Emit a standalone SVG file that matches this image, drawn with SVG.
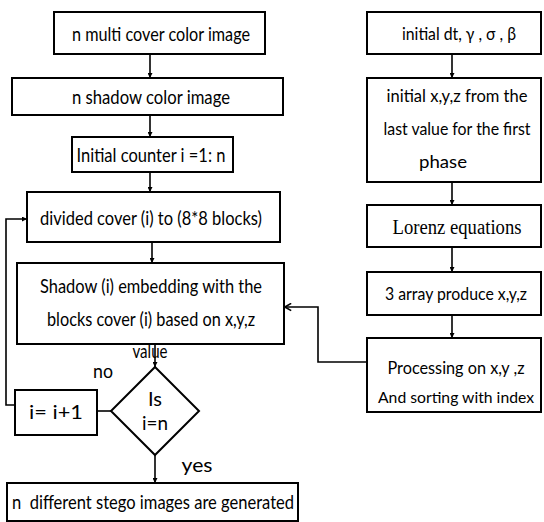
<svg xmlns="http://www.w3.org/2000/svg" width="544" height="522" viewBox="0 0 544 522">
<style>
.b{fill:#fff;stroke:#000;stroke-width:2}
.t{font-family:Lato,"Liberation Sans",Arial,sans-serif;font-size:19px;fill:#000;text-anchor:middle}
.r{font-size:17px}
.q{font-size:16px}
.s{font-family:"Liberation Serif","Times New Roman",serif;font-size:20px;fill:#000;text-anchor:middle}
.c{fill:none;stroke:#000;stroke-width:1.6}
</style>
<defs>
<marker id="ah" viewBox="0 0 10 10" refX="10" refY="5" markerWidth="5" markerHeight="5" orient="auto" markerUnits="userSpaceOnUse">
<path d="M0,0 L10,5 L0,10 z" fill="#000"/>
</marker>
<marker id="oh" viewBox="0 0 10 10" refX="10" refY="5" markerWidth="9" markerHeight="9" orient="auto" markerUnits="userSpaceOnUse">
<path d="M2,1 L9,5 L2,9" fill="none" stroke="#000" stroke-width="1.8"/>
</marker>
</defs>
<rect width="544" height="522" fill="#fff"/>
<text class="t" x="150" y="358" textLength="35" lengthAdjust="spacingAndGlyphs">value</text>
<g id="connectors">
<path class="c" d="M150,54 V78" marker-end="url(#ah)"/>
<path class="c" d="M150,115 V137" marker-end="url(#ah)"/>
<path class="c" d="M150,172 V192" marker-end="url(#ah)"/>
<path class="c" d="M152,242 V263" marker-end="url(#ah)"/>
<path class="c" d="M155,344 V367" marker-end="url(#ah)"/>
<path class="c" d="M155,455 V483" marker-end="url(#ah)"/>
<path class="c" d="M111,411 H97"/>
<path class="c" d="M15,405 H6 V219 H27" marker-end="url(#ah)"/>
<path class="c" d="M452,54 V78" marker-end="url(#ah)"/>
<path class="c" d="M452,182 V205" marker-end="url(#ah)"/>
<path class="c" d="M452,247 V272" marker-end="url(#ah)"/>
<path class="c" d="M452,315 V338" marker-end="url(#ah)"/>
<path class="c" d="M367,362 H318 V307 H284" marker-end="url(#oh)"/>
</g>
<g id="n1"><rect class="b" x="54" y="12" width="211" height="42"/><text class="t" x="161" y="41" textLength="178" lengthAdjust="spacingAndGlyphs">n multi cover color image</text></g>
<g id="n2"><rect class="b" x="12" y="78" width="271" height="37"/><text class="t" x="151" y="104" textLength="158" lengthAdjust="spacingAndGlyphs">n shadow color image</text></g>
<g id="n3"><rect class="b" x="72" y="137" width="161" height="35"/><text class="t" x="151" y="162" textLength="149" lengthAdjust="spacingAndGlyphs">Initial counter i =1: n</text></g>
<g id="n4"><rect class="b" x="27" y="192" width="253" height="50"/><text class="t" x="151" y="225" textLength="222" lengthAdjust="spacingAndGlyphs">divided cover (i) to (8*8 blocks)</text></g>
<g id="n5"><rect class="b" x="17" y="263" width="267" height="81"/><text class="t" x="151" y="293" textLength="222" lengthAdjust="spacingAndGlyphs">Shadow (i) embedding with the</text><text class="t" x="151" y="326" textLength="208" lengthAdjust="spacingAndGlyphs">blocks cover (i) based on x,y,z</text></g>
<g id="n6"><polygon class="b" points="155,367 199,411 155,455 111,411"/><text class="t" x="155" y="406" textLength="14" lengthAdjust="spacingAndGlyphs">Is</text><text class="t" x="155" y="430" textLength="26" lengthAdjust="spacingAndGlyphs">i=n</text></g>
<g id="n7"><rect class="b" x="15" y="390" width="82" height="45"/><text class="t" x="56" y="419" textLength="54" lengthAdjust="spacingAndGlyphs">i= i+1</text></g>
<g id="n8"><rect class="b" x="7" y="483" width="291" height="38"/><text class="t" x="153" y="509" textLength="282" lengthAdjust="spacingAndGlyphs">n&#160; different stego images are generated</text></g>
<g id="r1"><rect class="b" x="367" y="12" width="174" height="42"/><text class="t r" x="459" y="40" textLength="114" lengthAdjust="spacingAndGlyphs">initial dt, γ , σ , β</text></g>
<g id="r2"><rect class="b" x="367" y="78" width="174" height="104"/><text class="t r" x="457" y="102" textLength="141" lengthAdjust="spacingAndGlyphs">initial x,y,z from the</text><text class="t r" x="457" y="135" textLength="147" lengthAdjust="spacingAndGlyphs">last value for the first</text><text class="t r" x="443" y="168" textLength="48" lengthAdjust="spacingAndGlyphs">phase</text></g>
<g id="r3"><rect class="b" x="367" y="205" width="174" height="42"/><text class="s" x="457" y="234" textLength="129" lengthAdjust="spacingAndGlyphs">Lorenz equations</text></g>
<g id="r4"><rect class="b" x="367" y="272" width="174" height="43"/><text class="t r" x="456" y="300" textLength="142" lengthAdjust="spacingAndGlyphs">3 array produce x,y,z</text></g>
<g id="r5"><rect class="b" x="367" y="338" width="174" height="74"/><text class="t r" x="456" y="374" textLength="137" lengthAdjust="spacingAndGlyphs">Processing on x,y ,z</text><text class="t q" x="456" y="403" textLength="156" lengthAdjust="spacingAndGlyphs">And sorting with index</text></g>
<g id="labels"><text class="t" x="103" y="378" textLength="20" lengthAdjust="spacingAndGlyphs">no</text><text class="t" x="197" y="472" textLength="31" lengthAdjust="spacingAndGlyphs">yes</text></g>
</svg>
